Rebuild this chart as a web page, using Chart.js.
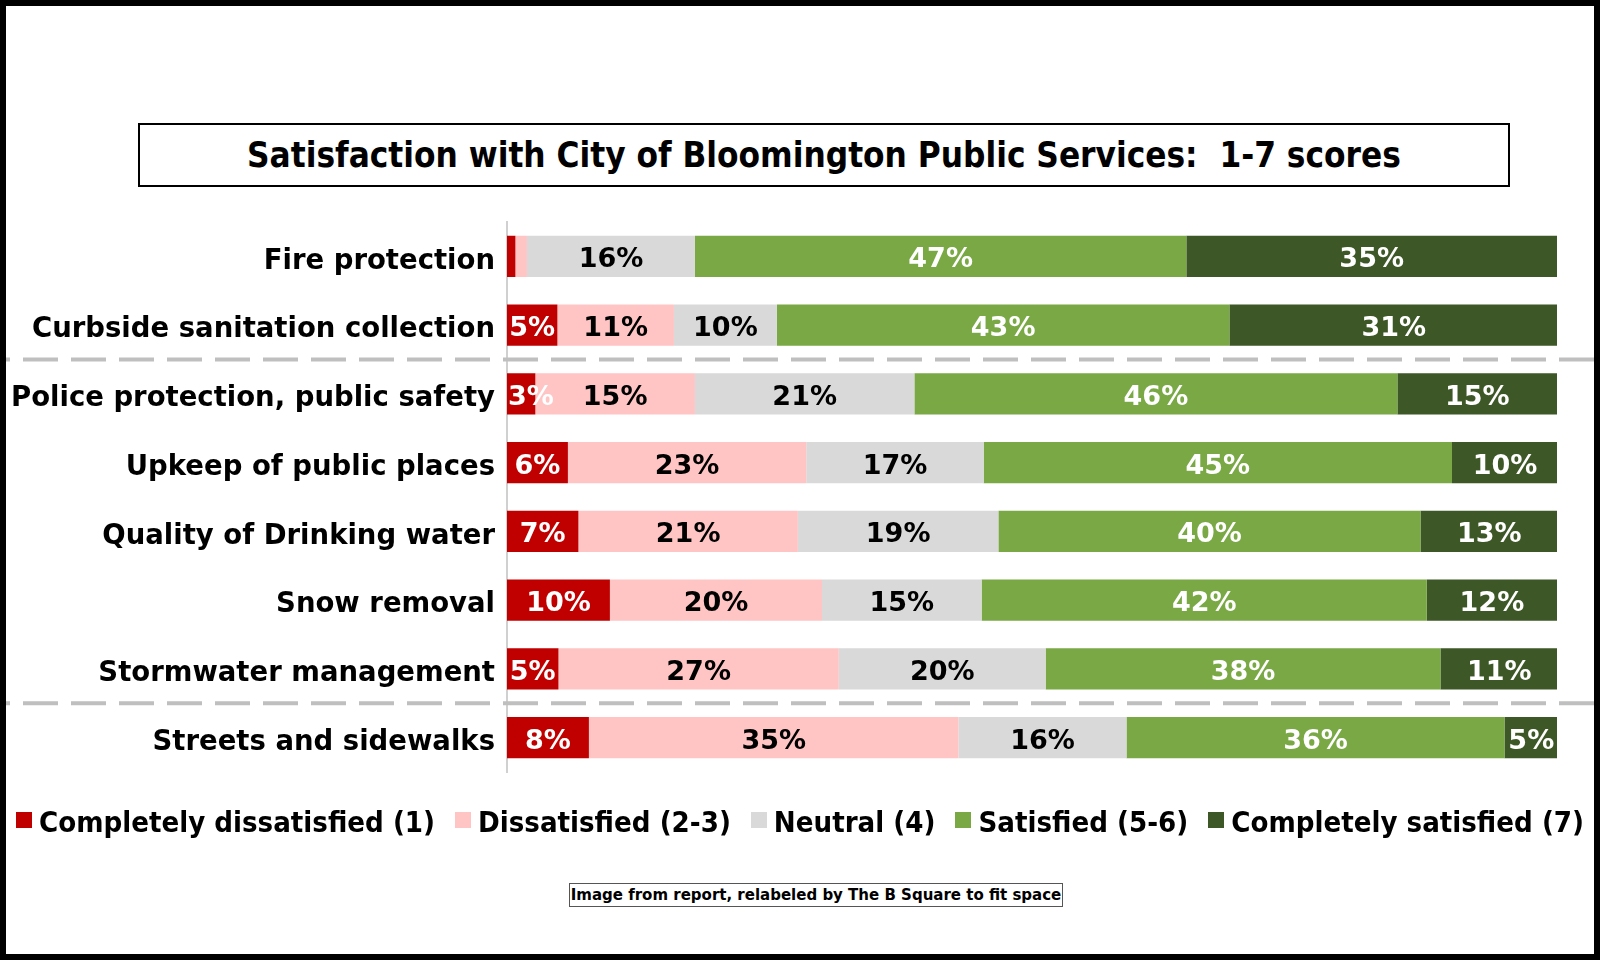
<!DOCTYPE html>
<html>
<head>
<meta charset="utf-8">
<title>Satisfaction with City of Bloomington Public Services</title>
<script src="https://cdn.jsdelivr.net/npm/chart.js@4.4.1/dist/chart.umd.min.js"></script>
<style>
  html, body { margin: 0; padding: 0; background: #fff; }
  #frame { position: relative; width: 1600px; height: 960px; overflow: hidden; background: #fff; }
  #chartBox { position: absolute; left: 0; top: 0; width: 1600px; height: 960px; }
  #border { position: absolute; inset: 0; border: 6px solid #000; box-sizing: border-box; pointer-events: none; }
  #title {
    position: absolute; left: 138px; top: 123px; width: 1372px; height: 64px;
    box-sizing: border-box; border: 2px solid #000; background: #fff;
    font: bold 34.8px "DejaVu Sans Condensed", "DejaVu Sans"; color: #000;
    display: flex; align-items: center; justify-content: center; white-space: pre;
  }
  #legend {
    position: absolute; left: 0; top: 808px; width: 1600px;
    display: flex; justify-content: center;
    font: bold 29.1px "DejaVu Sans Condensed", "DejaVu Sans"; line-height: 29px; color: #000;
  }
  #legend .item { display: flex; align-items: flex-start; margin: 0 10px; white-space: nowrap; }
  #legend .item i { display: block; width: 16px; height: 16px; margin: 4px 7px 0 0; }
  #note {
    position: absolute; left: 569px; top: 883px; width: 494px; height: 24px;
    box-sizing: border-box; border: 1px solid #555; background: #fff;
    font: bold 15px "DejaVu Sans"; line-height: 22px; text-align: center; color: #000; white-space: nowrap;
  }
</style>
</head>
<body>
<div id="frame">
  <div id="chartBox"><canvas id="satisfaction"></canvas></div>
  <div id="title">Satisfaction with City of Bloomington Public Services:  1-7 scores</div>
  <div id="legend"></div>
  <div id="note">Image from report, relabeled by The B Square to fit space</div>
  <div id="border"></div>
</div>
<script>
// categories (top to bottom)
const categories = [
  'Fire protection',
  'Curbside sanitation collection',
  'Police protection, public safety',
  'Upkeep of public places',
  'Quality of Drinking water',
  'Snow removal',
  'Stormwater management',
  'Streets and sidewalks'
];

// share of answers, in percent
const completelyDissatisfied = [0.8, 4.8, 2.7, 5.8, 6.8, 9.8, 4.9, 7.8];
const dissatisfied = [1.1, 11.1, 15.2, 22.7, 20.9, 20.2, 26.7, 35.2];
const neutral = [16.0, 9.8, 20.9, 16.9, 19.1, 15.2, 19.7, 16.0];
const satisfied = [46.8, 43.1, 46.0, 44.6, 40.2, 42.4, 37.6, 36.0];
const completelySatisfied = [35.3, 31.3, 15.2, 10.1, 13.1, 12.4, 11.2, 5.1];

const seriesNames = ['Completely dissatisfied (1)', 'Dissatisfied (2-3)', 'Neutral (4)', 'Satisfied (5-6)', 'Completely satisfied (7)'];
const seriesColors = ['#c00000', '#ffc5c5', '#d9d9d9', '#79a845', '#3d5726'];
const labelColors = ['#fff', '#000', '#000', '#fff', '#fff'];

// dashed lines go in front of these categories
const groupStarts = [2, 7];

// percent labels inside the bars
const barLabels = {
  id: 'barLabels',
  afterDatasetsDraw(chart) {
    const {ctx, chartArea} = chart;
    ctx.save();
    ctx.font = 'bold 27px "DejaVu Sans"';
    ctx.textAlign = 'center';
    ctx.textBaseline = 'middle';
    chart.data.datasets.forEach((ds, i) => {
      chart.getDatasetMeta(i).data.forEach((bar, j) => {
        const v = ds.data[j];
        if (v < 2.5) return;
        const txt = Math.round(v) + '%';
        const w = ctx.measureText(txt).width;
        let x = (bar.x + bar.base) / 2;
        x = Math.max(x, chartArea.left + w / 2 + 1);
        x = Math.min(x, chartArea.right - w / 2 - 1);
        ctx.fillStyle = labelColors[i];
        ctx.fillText(txt, x, bar.y + 4);
      });
    });
    ctx.restore();
  }
};

// grey dashed separators between the groups
const groupLines = {
  id: 'groupLines',
  afterDraw(chart) {
    const {ctx, width} = chart;
    const yScale = chart.scales.y;
    ctx.save();
    ctx.strokeStyle = '#bfbfbf';
    ctx.lineWidth = 4;
    ctx.setLineDash([35, 13]);
    ctx.lineDashOffset = 31;
    groupStarts.forEach(k => {
      const y = (yScale.getPixelForValue(k - 1) + yScale.getPixelForValue(k)) / 2;
      ctx.beginPath();
      ctx.moveTo(6, y);
      ctx.lineTo(width - 6, y);
      ctx.stroke();
    });
    ctx.restore();
  }
};

const seriesData = [completelyDissatisfied, dissatisfied, neutral, satisfied, completelySatisfied];

const chart = new Chart(document.getElementById('satisfaction'), {
  type: 'bar',
  data: {
    labels: categories,
    datasets: seriesData.map((d, i) => ({
      label: seriesNames[i],
      data: d,
      backgroundColor: seriesColors[i],
      borderWidth: 0
    }))
  },
  options: {
    indexAxis: 'y',
    responsive: true,
    maintainAspectRatio: false,
    animation: false,
    layout: { padding: { left: 7, right: 43, top: 222, bottom: 188 } },
    datasets: { bar: { barPercentage: 0.6, categoryPercentage: 1 } },
    scales: {
      x: { stacked: true, min: 0, max: 100, display: false },
      y: {
        stacked: true,
        grid: { display: false, drawTicks: false },
        border: { display: true, color: '#d0d0d0', width: 2 },
        ticks: { color: '#000', padding: 12, labelOffset: 5, font: { family: 'DejaVu Sans', weight: 'bold', size: 27.5 } },
        afterFit: scale => { scale.width = 500; }
      }
    },
    plugins: {
      legend: { display: false },
      tooltip: { enabled: false }
    }
  },
  plugins: [barLabels, groupLines]
});

// legend as html row under the chart
const legendBox = document.getElementById('legend');
chart.options.plugins.legend.labels.generateLabels(chart).forEach(item => {
  legendBox.innerHTML += `<span class="item"><i style="background:${item.fillStyle}"></i>${item.text}</span>`;
});
</script>
</body>
</html>
